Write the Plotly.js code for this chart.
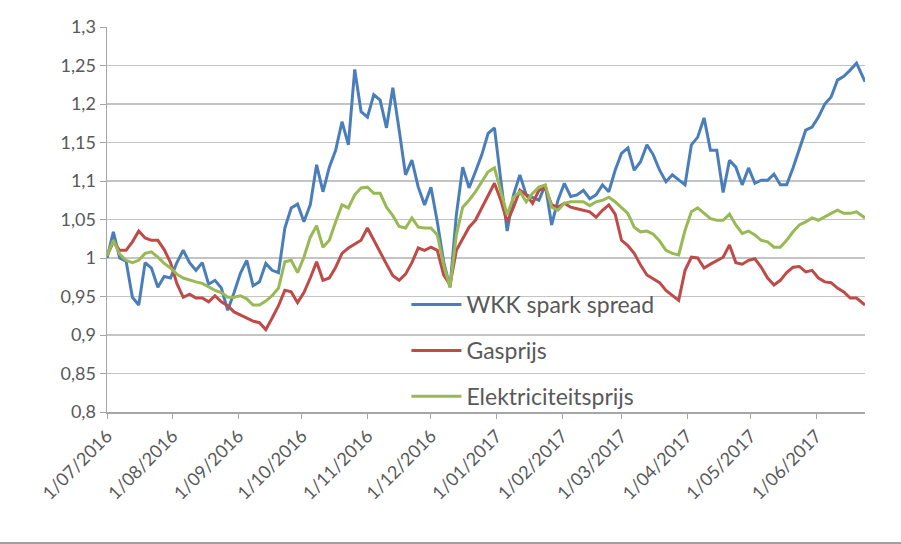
<!DOCTYPE html>
<html>
<head>
<meta charset="utf-8">
<script src="https://cdn.plot.ly/plotly-3.0.1.min.js"></script>
<style>html,body{margin:0;padding:0;background:#fff;}#chart{width:901px;height:544px;}</style>
</head>
<body>
<div id="chart"></div>
<script>
const dates = [
 '2016-07-01','2016-07-04','2016-07-07','2016-07-10','2016-07-13','2016-07-16','2016-07-19','2016-07-22','2016-07-25','2016-07-28',
 '2016-07-31','2016-08-03','2016-08-06','2016-08-09','2016-08-12','2016-08-15','2016-08-18','2016-08-21','2016-08-24','2016-08-27',
 '2016-08-30','2016-09-02','2016-09-05','2016-09-08','2016-09-11','2016-09-14','2016-09-17','2016-09-20','2016-09-23','2016-09-26',
 '2016-09-29','2016-10-02','2016-10-05','2016-10-08','2016-10-11','2016-10-14','2016-10-17','2016-10-20','2016-10-23','2016-10-26',
 '2016-10-29','2016-11-01','2016-11-04','2016-11-07','2016-11-10','2016-11-13','2016-11-16','2016-11-19','2016-11-22','2016-11-25',
 '2016-11-28','2016-12-01','2016-12-04','2016-12-07','2016-12-10','2016-12-13','2016-12-16','2016-12-19','2016-12-22','2016-12-25',
 '2016-12-28','2016-12-31','2017-01-03','2017-01-06','2017-01-09','2017-01-12','2017-01-15','2017-01-18','2017-01-21','2017-01-24',
 '2017-01-27','2017-01-30','2017-02-02','2017-02-05','2017-02-08','2017-02-11','2017-02-14','2017-02-17','2017-02-20','2017-02-23',
 '2017-02-26','2017-03-01','2017-03-04','2017-03-07','2017-03-10','2017-03-13','2017-03-16','2017-03-19','2017-03-22','2017-03-25',
 '2017-03-28','2017-03-31','2017-04-03','2017-04-06','2017-04-09','2017-04-12','2017-04-15','2017-04-18','2017-04-21','2017-04-24',
 '2017-04-27','2017-04-30','2017-05-03','2017-05-06','2017-05-09','2017-05-12','2017-05-15','2017-05-18','2017-05-21','2017-05-24',
 '2017-05-27','2017-05-30','2017-06-02','2017-06-05','2017-06-08','2017-06-11','2017-06-14','2017-06-17','2017-06-20','2017-06-24'
];

const wkkSparkSpread = [
 1.000, 1.034, 1.000, 0.996, 0.949, 0.939, 0.994, 0.987, 0.962, 0.976,
 0.974, 0.994, 1.010, 0.994, 0.984, 0.994, 0.966, 0.971, 0.961, 0.932,
 0.955, 0.980, 0.997, 0.964, 0.969, 0.993, 0.984, 0.981, 1.039, 1.065,
 1.070, 1.047, 1.069, 1.121, 1.086, 1.118, 1.140, 1.177, 1.147, 1.245,
 1.190, 1.183, 1.212, 1.205, 1.169, 1.221, 1.166, 1.108, 1.127, 1.092,
 1.069, 1.092, 1.047, 0.995, 0.962, 1.056, 1.118, 1.091, 1.112, 1.134,
 1.162, 1.169, 1.101, 1.035, 1.082, 1.108, 1.082, 1.078, 1.075, 1.095,
 1.043, 1.075, 1.097, 1.080, 1.082, 1.088, 1.077, 1.082, 1.095, 1.086,
 1.114, 1.136, 1.143, 1.114, 1.125, 1.147, 1.134, 1.114, 1.099, 1.108,
 1.101, 1.095, 1.147, 1.157, 1.182, 1.140, 1.140, 1.085, 1.127, 1.118,
 1.095, 1.117, 1.097, 1.101, 1.101, 1.109, 1.095, 1.095, 1.117, 1.143,
 1.166, 1.170, 1.183, 1.200, 1.209, 1.231, 1.236, 1.244, 1.253, 1.229
];

const gasprijs = [
 1.003, 1.021, 1.010, 1.010, 1.021, 1.035, 1.026, 1.023, 1.023, 1.011,
 0.994, 0.967, 0.949, 0.953, 0.948, 0.948, 0.943, 0.951, 0.943, 0.938,
 0.930, 0.926, 0.922, 0.918, 0.916, 0.907, 0.922, 0.938, 0.958, 0.956,
 0.942, 0.955, 0.974, 0.995, 0.971, 0.974, 0.988, 1.006, 1.013, 1.018,
 1.023, 1.039, 1.023, 1.006, 0.992, 0.977, 0.971, 0.979, 0.994, 1.013,
 1.010, 1.014, 1.010, 0.978, 0.965, 1.010, 1.026, 1.040, 1.049, 1.065,
 1.082, 1.097, 1.075, 1.047, 1.066, 1.088, 1.082, 1.071, 1.088, 1.091,
 1.069, 1.066, 1.071, 1.066, 1.064, 1.062, 1.060, 1.053, 1.062, 1.069,
 1.057, 1.023, 1.016, 1.006, 0.991, 0.978, 0.973, 0.968, 0.958, 0.951,
 0.945, 0.984, 1.001, 1.000, 0.987, 0.992, 0.996, 1.001, 1.017, 0.994,
 0.992, 0.997, 0.999, 0.988, 0.974, 0.965, 0.971, 0.981, 0.988, 0.989,
 0.982, 0.984, 0.974, 0.969, 0.968, 0.961, 0.956, 0.948, 0.948, 0.939
];

const elektriciteitsprijs = [
 1.003, 1.023, 1.005, 0.997, 0.994, 0.997, 1.006, 1.008, 1.001, 0.993,
 0.987, 0.979, 0.974, 0.971, 0.969, 0.967, 0.962, 0.958, 0.955, 0.949,
 0.949, 0.951, 0.947, 0.939, 0.939, 0.944, 0.951, 0.961, 0.995, 0.997,
 0.981, 1.001, 1.027, 1.042, 1.014, 1.023, 1.047, 1.069, 1.065, 1.082,
 1.091, 1.092, 1.084, 1.084, 1.066, 1.055, 1.041, 1.039, 1.052, 1.040,
 1.039, 1.039, 1.030, 0.991, 0.962, 1.030, 1.066, 1.075, 1.086, 1.099,
 1.112, 1.117, 1.088, 1.056, 1.079, 1.086, 1.073, 1.084, 1.092, 1.095,
 1.066, 1.062, 1.071, 1.073, 1.073, 1.073, 1.068, 1.073, 1.075, 1.079,
 1.073, 1.065, 1.058, 1.040, 1.034, 1.035, 1.031, 1.022, 1.010, 1.006,
 1.004, 1.036, 1.060, 1.065, 1.058, 1.051, 1.049, 1.049, 1.057, 1.043,
 1.032, 1.035, 1.030, 1.023, 1.021, 1.014, 1.014, 1.023, 1.034, 1.043,
 1.047, 1.052, 1.049, 1.054, 1.058, 1.062, 1.058, 1.058, 1.060, 1.052
];

const seriesNames = ['WKK spark spread', 'Gasprijs', 'Elektriciteitsprijs'];
const yTickVals = [0.8, 0.85, 0.9, 0.95, 1.0, 1.05, 1.1, 1.15, 1.2, 1.25, 1.3];
const yTickText = ['0,8', '0,85', '0,9', '0,95', '1', '1,05', '1,1', '1,15', '1,2', '1,25', '1,3'];

const colors = ['#4a7ebb', '#be4b48', '#98b954'];
const seriesValues = [wkkSparkSpread, gasprijs, elektriciteitsprijs];

const traces = seriesValues.map((vals, i) => ({
  type: 'scatter',
  mode: 'lines',
  x: dates,
  y: vals,
  name: seriesNames[i],
  legendgroup: 'g' + i,
  line: {color: colors[i], width: 3},
  hoverinfo: 'x+y+name'
}));

const FONT = 'Lato, "Open Sans", sans-serif';

const layout = {
  width: 901,
  height: 544,
  margin: {l: 107, r: 36, t: 27, b: 132},
  paper_bgcolor: '#ffffff',
  plot_bgcolor: '#ffffff',
  font: {family: FONT, color: '#595959', size: 18},
  showlegend: true,
  legend: {
    x: 0.395, xanchor: 'left',
    y: 0.335, yanchor: 'top',
    bgcolor: 'rgba(0,0,0,0)',
    borderwidth: 0,
    traceorder: 'grouped',
    tracegroupgap: 13,
    itemwidth: 50,
    font: {family: FONT, size: 23, color: '#595959'}
  },
  xaxis: {
    type: 'date',
    range: ['2016-07-01', '2017-06-24'],
    tick0: '2016-07-01',
    dtick: 'M1',
    tickformat: '%-d/%m/%Y',
    tickangle: -45,
    ticks: 'outside',
    ticklen: 5,
    tickcolor: '#a6a6a6',
    showline: true,
    linecolor: '#a6a6a6',
    linewidth: 1.5,
    showgrid: false,
    zeroline: false,
    tickfont: {family: FONT, size: 18, color: '#595959'}
  },
  yaxis: {
    range: [0.8, 1.3],
    tickvals: yTickVals,
    ticktext: yTickText,
    ticks: 'outside',
    ticklen: 6,
    tickcolor: '#a6a6a6',
    showline: true,
    linecolor: '#a6a6a6',
    linewidth: 1.5,
    showgrid: true,
    gridcolor: '#c4c4c4',
    gridwidth: 1.5,
    zeroline: false,
    tickfont: {family: FONT, size: 18, color: '#595959'}
  },
  shapes: [{
    type: 'line', xref: 'paper', yref: 'paper',
    x0: -0.15, x1: 1.1, y0: -0.34, y1: -0.34,
    line: {color: '#a0a0a0', width: 2}
  }]
};

Plotly.newPlot('chart', traces, layout, {displayModeBar: false, staticPlot: true});
</script>
</body>
</html>
